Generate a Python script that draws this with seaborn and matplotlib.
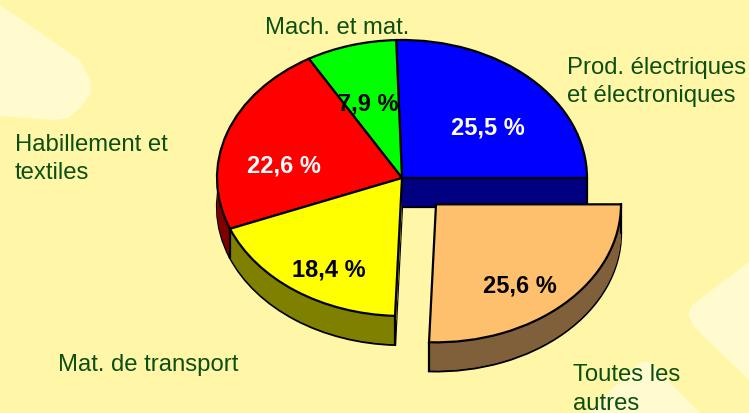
import matplotlib.pyplot as plt
import numpy as np
import seaborn as sns

W, H = 749, 413

categories = ["Prod. électriques\net électroniques", "Mach. et mat.", "Habillement et\ntextiles",
              "Mat. de transport", "Toutes les\nautres"]
values = [25.5, 7.9, 22.6, 18.4, 25.6]
explode = [0, 0, 0, 0, 0.265]

top_colors = ["#0000FF", "#00FF00", "#FF0000", "#FFFF00", "#FFC06E"]
side_colors = ["#000080", "#008000", "#800000", "#808000", "#80603A"]

BG = "#FFF6A8"
DECOR = "#FFFBCF"
GREEN_TEXT = "#0B4F12"

# pie placement in pixels
CX, CY = 402, 178
RX, RY = 185, 138
DEPTH = 29 / RY

label_pos = [(567, 82), (265, 27.5), (15, 159), (58, 365), (573, 389.5)]
pct_pos = [(488, 128), (368, 104), (284, 166), (329, 270), (520, 286)]

# pale shapes behind the chart
decor_shapes = [
    [(0, 5), (80, 60), (90, 80), (91, 93), (80, 108), (68, 118), (55, 120), (0, 116)],
    [(749, 262), (692, 305), (688, 315), (695, 328), (749, 380)],
    [(590, 413), (603, 398), (640, 362), (650, 362), (700, 413)],
]


def to_axes(p):
    return p[0] / W, 1 - p[1] / H


sns.set_style("white")
plt.rcParams["font.family"] = ["Liberation Sans", "DejaVu Sans"]

fig = plt.figure(figsize=(W / 100, H / 100), dpi=100, facecolor=BG)
ax = fig.add_axes([0, 0, 1, 1])

for shape in decor_shapes:
    xs, ys = zip(*[to_axes(p) for p in shape])
    ax.fill(xs, ys, color=DECOR, lw=0, transform=ax.transAxes, zorder=0)

# side of the pie: bottom outline first, then stacked slices up to the top face
ax.pie(values, explode=explode, colors=side_colors, startangle=0, center=(0, -DEPTH),
       wedgeprops={"edgecolor": "black", "linewidth": 1.6})
for d in np.linspace(DEPTH, 0, 40)[1:]:
    ax.pie(values, explode=explode, colors=side_colors, startangle=0, center=(0, -d),
           wedgeprops={"linewidth": 0})

# vertical edges of the side walls
ends = np.cumsum(values) / sum(values) * 2 * np.pi
starts = np.r_[0, ends[:-1]]
mid = (starts + ends) / 2
off_x = np.array(explode) * np.cos(mid)
off_y = np.array(explode) * np.sin(mid)
edge_angles = [(starts[0], 0), (ends[2], 2), (ends[3], 3), (starts[4], 4), (ends[4], 4)]
for a, i in edge_angles:
    x = np.cos(a) + off_x[i]
    y = np.sin(a) + off_y[i]
    ax.plot([x, x], [y, y - DEPTH], color="black", lw=1.6, zorder=5)

# top face
wedges, _ = ax.pie(values, explode=explode, colors=top_colors, startangle=0,
                   wedgeprops={"edgecolor": "black", "linewidth": 1.6})
for w in wedges:
    w.set_zorder(6)

ax.set_aspect("auto")
ax.set_xlim(-CX / RX, (W - CX) / RX)
ax.set_ylim((CY - H) / RY, CY / RY)
ax.axis("off")

for cat, pos in zip(categories, label_pos):
    x, y = to_axes(pos)
    ax.text(x, y, cat, transform=ax.transAxes, ha="left", va="center", fontsize=17.2,
            color=GREEN_TEXT, linespacing=1.38, zorder=8)

for v, pos in zip(values, pct_pos):
    x, y = to_axes(pos)
    txt = f"{v:.1f} %".replace(".", ",")
    color = "white" if pos in (pct_pos[0], pct_pos[2]) else "black"
    ax.text(x, y, txt, transform=ax.transAxes, ha="center", va="center", fontsize=17,
            fontweight="bold", color=color, zorder=8)

fig.savefig("out.png", dpi=100, facecolor=BG)
